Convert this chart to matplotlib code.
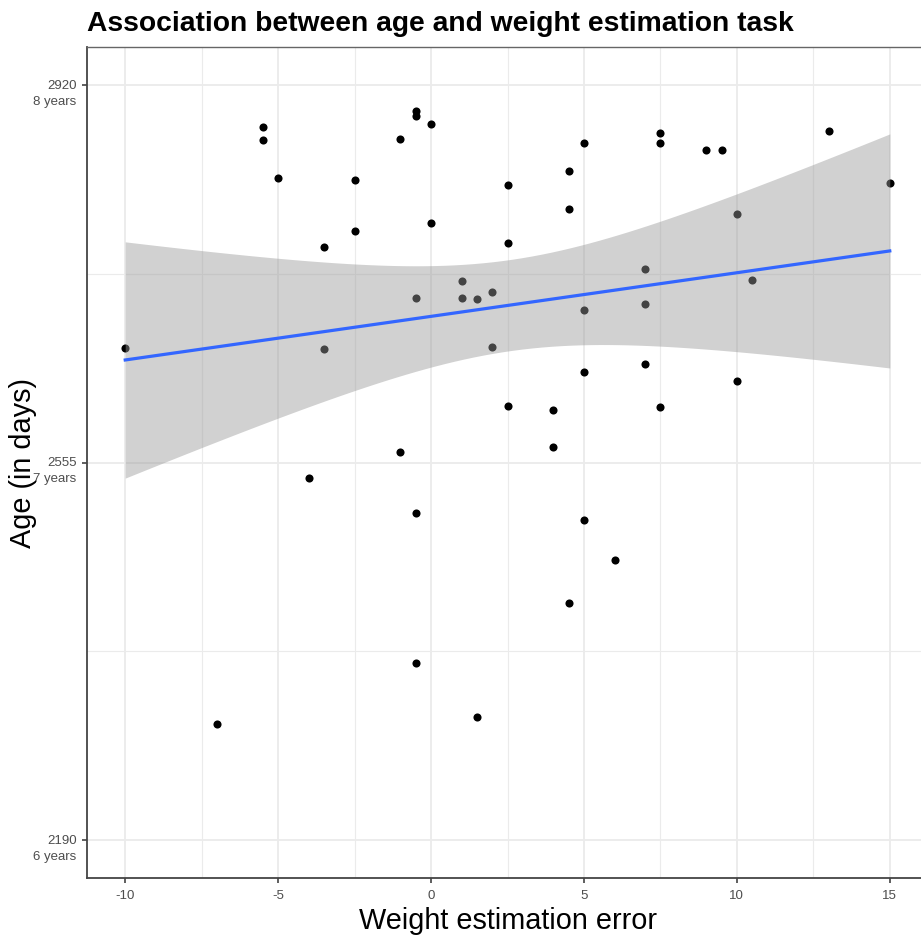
import numpy as np
import matplotlib
matplotlib.use("Agg")
import matplotlib.pyplot as plt
import matplotlib.transforms as mtransforms

# Data: weight estimation error vs age in days
error = [-10, -7, -5.5, -5.5, -5, -4, -3.5, -3.5, -2.5, -2.5,
         -1, -1, -0.5, -0.5, -0.5, -0.5, -0.5, 0, 0,
         1, 1, 1.5, 1.5, 2, 2, 2.5, 2.5, 2.5,
         4, 4, 4.5, 4.5, 4.5, 5, 5, 5, 5, 6,
         7, 7, 7, 7.5, 7.5, 7.5, 9, 9.5, 10, 10, 10.5, 13, 15]
age_days = [2666, 2302, 2879, 2867, 2830, 2540, 2763, 2665, 2828, 2779,
            2868, 2565, 2895, 2890, 2714, 2506, 2361, 2882, 2786,
            2730, 2714, 2713, 2309, 2720, 2667, 2823, 2767, 2610,
            2606, 2570, 2837, 2800, 2419, 2864, 2702, 2642, 2499, 2461,
            2742, 2708, 2650, 2873, 2864, 2609, 2857, 2857, 2795, 2634, 2731, 2875, 2825]

y_breaks = [2190, 2555, 2920]
y_labels = ["2190\n6 years", "2555\n7 years", "2920\n8 years"]
x_breaks = [-10, -5, 0, 5, 10, 15]
x_labels = ["-10", "-5", "0", "5", "10", "15"]

plt.rcParams['font.family'] = ['Liberation Sans', 'DejaVu Sans']

fig = plt.figure(figsize=(9.21, 9.38), dpi=100)
ax = fig.add_axes([87/921, 60/938, 841/921, 831/938])

x = np.array(error, float)
y = np.array(age_days, float)
n = len(x)
b, a = np.polyfit(x, y, 1)
xs = np.linspace(x.min(), x.max(), 80)
ys = a + b * xs
resid = y - (a + b * x)
s = np.sqrt(np.sum(resid**2) / (n - 2))
sxx = np.sum((x - x.mean())**2)
se = s * np.sqrt(1/n + (xs - x.mean())**2 / sxx)
tval = 2.009
ax.scatter(x, y, s=34, color='black', zorder=3, linewidths=0)
ax.fill_between(xs, ys - tval*se, ys + tval*se, color='#999999', alpha=0.45,
                linewidth=0, zorder=4)
ax.plot(xs, ys, color='#3366FF', linewidth=2.3, zorder=5)

xr = x.max() - x.min()
ax.set_xlim(x.min() - 0.05*xr, x.max() + 0.05*xr)
ax.set_ylim(2190 - 0.05*730, 2920 + 0.05*730)

ax.set_xticks(x_breaks)
ax.set_xticklabels(x_labels)
ax.set_yticks(y_breaks)
ax.set_yticklabels(y_labels, linespacing=1.45)
ax.set_xticks([-7.5, -2.5, 2.5, 7.5, 12.5], minor=True)
ax.set_yticks([2372.5, 2737.5], minor=True)
ax.grid(which='major', color='#EBEBEB', linewidth=1.3, zorder=0)
ax.grid(which='minor', color='#EBEBEB', linewidth=0.8, zorder=0)
ax.set_axisbelow(True)
ax.tick_params(which='minor', length=0)
ax.tick_params(which='major', length=3.5, width=1.1, color='#333333',
               labelcolor='#4D4D4D', labelsize=9.5)
ax.tick_params(axis='x', pad=5)
ax.tick_params(axis='y', pad=4)
offset = mtransforms.ScaledTranslation(0, -3.8/72, fig.dpi_scale_trans)
for lab in ax.get_yticklabels():
    lab.set_transform(lab.get_transform() + offset)
for sp in ax.spines.values():
    sp.set_color('#666666')
    sp.set_linewidth(1.0)
ax.spines['left'].set_color('#444444')
ax.spines['bottom'].set_color('#444444')
ax.spines['left'].set_linewidth(1.3)
ax.spines['bottom'].set_linewidth(1.3)

ax.set_xlabel("Weight estimation error", fontsize=20.8, labelpad=4)
ax.set_ylabel("Age (in days)", fontsize=20.8)
ax.yaxis.set_label_coords((37 - 87) / 841, 0.5)
fig.text(87/921, 1 - 24/938, "Association between age and weight estimation task",
         fontsize=20.3, fontweight='bold', ha='left', va='center')

fig.savefig("out.png", dpi=100)
